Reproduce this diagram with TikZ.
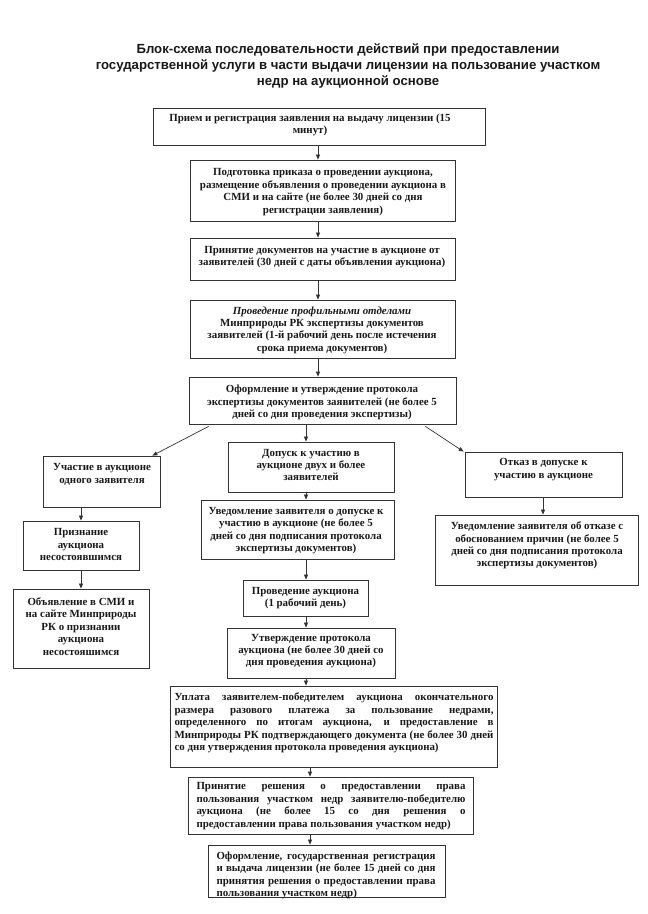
\documentclass[tikz,border=0pt]{standalone}
\usepackage{fontspec}
\setmainfont{Liberation Serif}
\newfontfamily\titlefont{Liberation Sans}
\usetikzlibrary{arrows.meta,calc}
\begin{document}
\begin{tikzpicture}[x=1pt,y=-1pt,
  frame/.style={draw=black!80, line width=0.8pt, inner sep=0pt},
  txt/.style={font=\bfseries\fontsize{10.9}{12.4}\selectfont, align=center, inner sep=0pt, text=black!90},
  jtxt/.style={txt, align=justify, text width=#1},
  arr/.style={draw=black!80, line width=0.7pt, -{Triangle[length=5pt,width=4pt]}},
  ttl/.style={font=\titlefont\bfseries\fontsize{13.2}{16}\selectfont, align=center, inner sep=0pt, text=black!90}]
\useasboundingbox (0,0) rectangle (648,914);

\node[ttl] (title) at (348,66) {Блок-схема последовательности действий при предоставлении\\
государственной услуги в части выдачи лицензии на пользование участком\\
недр на аукционной основе};

% frames
\node[frame, minimum width=332pt, minimum height=37pt] (B1) at (319,126.5) {};
\node[frame, minimum width=265pt, minimum height=61pt] (B2) at (322.5,190.5) {};
\node[frame, minimum width=265pt, minimum height=42pt] (B3) at (322.5,259) {};
\node[frame, minimum width=265pt, minimum height=58pt] (B4) at (322.5,329) {};
\node[frame, minimum width=267pt, minimum height=47pt] (B5) at (322.5,400.5) {};
\node[frame, minimum width=117pt, minimum height=51pt] (L1) at (101.5,481.5) {};
\node[frame, minimum width=116pt, minimum height=49pt] (L2) at (81,545.5) {};
\node[frame, minimum width=136pt, minimum height=79pt] (L3) at (81,628.5) {};
\node[frame, minimum width=166pt, minimum height=50pt] (C1) at (311,467) {};
\node[frame, minimum width=193pt, minimum height=59pt] (C2) at (297.5,529.5) {};
\node[frame, minimum width=125pt, minimum height=36pt] (C3) at (305.5,598) {};
\node[frame, minimum width=168pt, minimum height=50pt] (C4) at (311,653) {};
\node[frame, minimum width=157pt, minimum height=45pt] (R1) at (543.5,474.5) {};
\node[frame, minimum width=203pt, minimum height=70pt] (R2) at (536.5,550) {};
\node[frame, minimum width=327pt, minimum height=81pt] (D1) at (333.5,726.5) {};
\node[frame, minimum width=285pt, minimum height=57pt] (D2) at (330.5,805.5) {};
\node[frame, minimum width=237pt, minimum height=52pt] (D3) at (326.5,871) {};

% texts
\node[txt] (B1t) at (310,125) {Прием и регистрация заявления на выдачу лицензии (15\\минут)};
\node[txt] (B2t) at (323,192) {Подготовка приказа о проведении аукциона,\\размещение объявления о проведении аукциона в\\СМИ и на сайте (не более 30 дней со дня\\регистрации заявления)};
\node[txt] (B3t) at (322,257) {Принятие документов на участие в аукционе от\\заявителей (30 дней с даты объявления аукциона)};
\node[txt] (B4t) at (322,330) {\textit{Проведение профильными отделами}\\Минприроды РК экспертизы документов\\заявителей (1-й рабочий день после истечения\\срока приема документов)};
\node[txt] (B5t) at (322,402.5) {Оформление и утверждение протокола\\экспертизы документов заявителей (не более 5\\дней со дня проведения экспертизы)};
\node[txt] (L1t) at (102,474.5) {Участие в аукционе\\одного заявителя};
\node[txt] (L2t) at (81,544.5) {Признание\\аукциона\\несостоявшимся};
\node[txt] (L3t) at (81,626.5) {Объявление в СМИ и\\на сайте Минприроды\\РК о признании\\аукциона\\несостояшимся};
\node[txt] (C1t) at (311,465) {Допуск к участию в\\аукционе двух и более\\заявителей};
\node[txt] (C2t) at (296,530.5) {Уведомление заявителя о допуске к\\участию в аукционе (не более 5\\дней со дня подписания протокола\\экспертизы документов)};
\node[txt] (C3t) at (305.5,598) {Проведение аукциона\\(1 рабочий день)};
\node[txt] (C4t) at (311,651) {Утверждение протокола\\аукциона (не более 30 дней со\\дня проведения аукциона)};
\node[txt] (R1t) at (543.5,469.5) {Отказ в допуске к\\участию в аукционе};
\node[txt] (R2t) at (537,545.5) {Уведомление заявителя об отказе с\\обоснованием причин (не более 5\\дней со дня подписания протокола\\экспертизы документов)};
\node[jtxt=319pt] (D1t) at (334,723) {Уплата заявителем-победителем аукциона окончательного\linebreak размера разового платежа за пользование недрами,\linebreak определенного по итогам аукциона, и предоставление в\linebreak Минприроды РК подтверждающего документа (не более 30 дней\linebreak со дня утверждения протокола проведения аукциона)};
\node[jtxt=269pt] (D2t) at (331,806) {Принятие решения о предоставлении права\linebreak пользования участком недр заявителю-победителю\linebreak аукциона (не более 15 со дня решения о\linebreak предоставлении права пользования участком недр)};
\node[jtxt=219pt] (D3t) at (326,875.5) {Оформление, государственная регистрация\linebreak и выдача лицензии (не более 15 дней со дня\linebreak принятия решения о предоставлении права\linebreak пользования участком недр)};

% arrow columns
\coordinate (xa) at (318,0);
\coordinate (xc) at (306,0);
\coordinate (xd) at (310,0);
\coordinate (xl) at (81,0);
\coordinate (xr) at (543,0);

\draw[arr] (B1.south -| xa) -- (B2.north -| xa);
\draw[arr] (B2.south -| xa) -- (B3.north -| xa);
\draw[arr] (B3.south -| xa) -- (B4.north -| xa);
\draw[arr] (B4.south -| xa) -- (B5.north -| xa);
\draw[arr] (B5.south -| xc) -- (C1.north -| xc);
\draw[arr] (C1.south -| xc) -- (C2.north -| xc);
\draw[arr] (C2.south -| xc) -- (C3.north -| xc);
\draw[arr] (C3.south -| xc) -- (C4.north -| xc);
\draw[arr] (C4.south -| xc) -- (D1.north -| xc);
\draw[arr] (D1.south -| xd) -- (D2.north -| xd);
\draw[arr] (D2.south -| xd) -- (D3.north -| xd);
\draw[arr] (L1.south -| xl) -- (L2.north -| xl);
\draw[arr] (L2.south -| xl) -- (L3.north -| xl);
\draw[arr] (R1.south -| xr) -- (R2.north -| xr);
\draw[arr] ($(B5.south west)+(20,2)$) -- ($(L1.north east)+(-8,0)$);
\draw[arr] ($(B5.south east)+(-31,2)$) -- ($(R1.north west)+(-1,0)$);
\end{tikzpicture}
\end{document}
